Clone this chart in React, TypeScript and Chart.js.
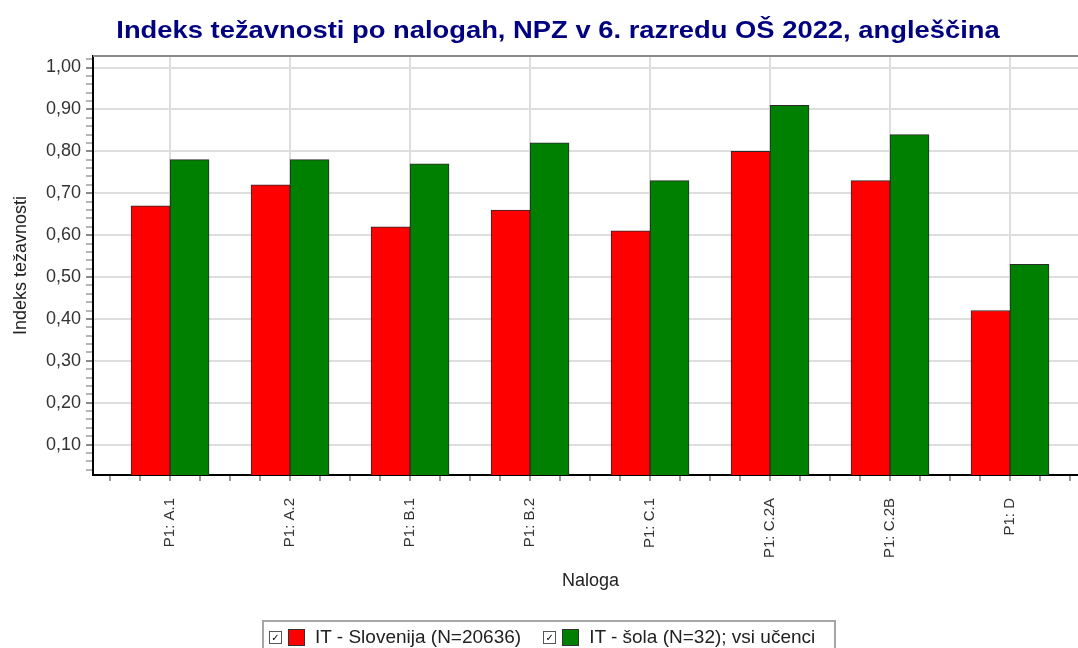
import React, { useEffect, useRef } from "react";
import { Chart, registerables } from "chart.js";

Chart.register(...registerables);

const chartTitle = "Indeks težavnosti po nalogah, NPZ v 6. razredu OŠ 2022, angleščina";
const xAxisTitle = "Naloga";
const yAxisTitle = "Indeks težavnosti";
const categories = ["P1: A.1", "P1: A.2", "P1: B.1", "P1: B.2", "P1: C.1", "P1: C.2A", "P1: C.2B", "P1: D"];
const sloveniaValues = [0.67, 0.72, 0.62, 0.66, 0.61, 0.8, 0.73, 0.42];
const schoolValues = [0.78, 0.78, 0.77, 0.82, 0.73, 0.91, 0.84, 0.53];
const seriesNames = ["IT - Slovenija (N=20636)", "IT - šola (N=32); vsi učenci"];
const seriesColors = ["#ff0000", "#008000"];
const yMin = 0.0275;
const yMax = 1.0275;
const yMinorStep = 0.02;
const xMinorStep = 0.25;

const FONT = "'Liberation Sans', Arial, Helvetica, sans-serif";

const isMajorY = (v: number) => Math.abs(v * 10 - Math.round(v * 10)) < 1e-6;
const isMajorX = (v: number) => Math.abs(v - Math.round(v)) < 1e-6;

export default function App() {
  const ref = useRef<HTMLCanvasElement | null>(null);

  useEffect(() => {
    if (!ref.current) return;
    const topBorder = {
      id: "topBorder",
      afterDraw(chart: any) {
        const { ctx, chartArea } = chart;
        ctx.save();
        ctx.strokeStyle = "#8a8a8a";
        ctx.lineWidth = 2;
        ctx.beginPath();
        ctx.moveTo(chartArea.left, chartArea.top);
        ctx.lineTo(chartArea.right, chartArea.top);
        ctx.stroke();
        ctx.restore();
      },
    };
    const chart = new Chart(ref.current, {
      type: "bar",
      data: {
        datasets: [
          {
            label: seriesNames[0],
            data: sloveniaValues.map((v, i) => ({ x: i, y: v })),
            backgroundColor: seriesColors[0],
            borderColor: "#2a2a2a",
            borderWidth: 1,
            barThickness: 39,
          },
          {
            label: seriesNames[1],
            data: schoolValues.map((v, i) => ({ x: i, y: v })),
            backgroundColor: seriesColors[1],
            borderColor: "#2a2a2a",
            borderWidth: 1,
            barThickness: 39,
          },
        ],
      },
      options: {
        animation: false,
        responsive: false,
        devicePixelRatio: 1,
        layout: { padding: { left: 0, right: 28, top: 56, bottom: 48 } },
        plugins: {
          legend: { display: false },
          tooltip: { enabled: false },
          title: { display: false },
        },
        scales: {
          x: {
            type: "linear",
            offset: false,
            min: -0.642,
            max: 7.65,
            afterBuildTicks: (scale: any) => {
              const t = [];
              for (let v = -0.5; v <= categories.length - 0.5 + 1e-9; v += xMinorStep) t.push({ value: v });
              scale.ticks = t;
            },
            afterFit: (scale: any) => {
              scale.height = 125;
            },
            ticks: {
              autoSkip: false,
              minRotation: 90,
              maxRotation: 90,
              padding: 17,
              color: "#333333",
              font: { family: FONT, size: 15 },
              callback: (value: any) => (isMajorX(value) ? categories[Math.round(value)] : ""),
            },
            grid: {
              offset: false,
              color: (ctx: any) => (ctx.tick && isMajorX(ctx.tick.value) ? "#dedede" : "rgba(0,0,0,0)"),
              tickColor: "#9a9a9a",
              lineWidth: 2,
              tickWidth: 2,
              tickLength: 6,
              drawTicks: true,
            },
            border: { display: true, color: "#000000", width: 2 },
            title: {
              display: true,
              text: xAxisTitle,
              color: "#222222",
              font: { family: FONT, size: 18 },
              padding: { top: 0, bottom: 8 },
            },
          },
          y: {
            min: yMin,
            max: yMax,
            afterBuildTicks: (scale: any) => {
              const t = [];
              for (let k = 2; k * yMinorStep <= yMax + 1e-9; k++) t.push({ value: Math.round(k * yMinorStep * 100) / 100 });
              scale.ticks = t;
            },
            afterFit: (scale: any) => {
              scale.width = 93;
            },
            ticks: {
              autoSkip: false,
              padding: 5,
              color: "#333333",
              font: { family: FONT, size: 18 },
              callback: (value: any) => (isMajorY(value) ? Number(value).toFixed(2).replace(".", ",") : ""),
            },
            grid: {
              color: (ctx: any) => (ctx.tick && isMajorY(ctx.tick.value) ? "#dedede" : "rgba(0,0,0,0)"),
              tickColor: (ctx: any) => (ctx.tick && isMajorY(ctx.tick.value) ? "#8a8a8a" : "#b5b5b5"),
              lineWidth: 2,
              tickWidth: 2,
              tickLength: 7,
            },
            border: { display: true, color: "#000000", width: 2 },
            title: {
              display: true,
              text: yAxisTitle,
              color: "#222222",
              font: { family: FONT, size: 18 },
              padding: { top: 10, bottom: 0 },
            },
          },
        },
      },
      plugins: [topBorder],
    } as any);
    return () => chart.destroy();
  }, []);

  const checkbox = (
    <span
      style={{
        display: "inline-block",
        width: 11,
        height: 11,
        border: "1px solid #555",
        background: "#fff",
        fontSize: 10,
        lineHeight: "11px",
        textAlign: "center",
        color: "#000",
        fontWeight: "bold",
        fontFamily: "'DejaVu Sans', sans-serif",
        marginRight: 6,
        boxSizing: "content-box",
      }}
    >
      ✓
    </span>
  );

  return (
    <div style={{ position: "absolute", left: 0, top: 0, width: 1078, height: 648, overflow: "hidden", background: "#fff" }}>
      <canvas ref={ref} width={1116} height={648} style={{ display: "block", width: 1116, height: 648 }} />
      <div
        style={{
          position: "absolute",
          left: 0,
          top: 18,
          width: 1116,
          textAlign: "center",
          fontFamily: FONT,
          fontWeight: "bold",
          fontSize: 24,
          lineHeight: "24px",
          color: "#000080",
          whiteSpace: "nowrap",
          transform: "scaleX(1.14)",
          transformOrigin: "558px 50%",
        }}
      >
        {chartTitle}
      </div>
      <div
        style={{
          position: "absolute",
          left: 262,
          top: 620,
          width: 574,
          height: 40,
          border: "2px solid #a6a6a6",
          boxSizing: "border-box",
          fontFamily: FONT,
          fontSize: 19,
          color: "#222",
          display: "flex",
          alignItems: "flex-start",
          paddingTop: 4,
          paddingLeft: 5,
          whiteSpace: "nowrap",
        }}
      >
        {seriesNames.map((name, i) => (
          <span key={name} style={{ display: "inline-flex", alignItems: "center", marginRight: i === 0 ? 22 : 0, height: 22 }}>
            {checkbox}
            <span
              style={{
                display: "inline-block",
                width: 15,
                height: 15,
                background: seriesColors[i],
                border: "1px solid #333",
                marginRight: 10,
              }}
            />
            <span>{name}</span>
          </span>
        ))}
      </div>
    </div>
  );
}
